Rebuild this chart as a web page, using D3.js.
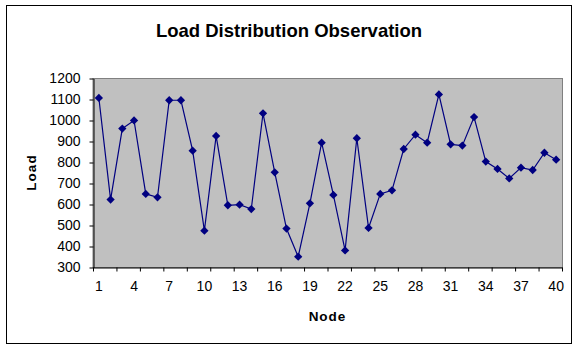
<!DOCTYPE html>
<html>
<head>
<meta charset="utf-8">
<script src="https://cdn.jsdelivr.net/npm/d3@7"></script>
<style>
  body { margin: 0; background: #fff; }
  text { font-family: "Liberation Sans", Arial, sans-serif; }
</style>
</head>
<body>
<div id="chart"></div>
<script>
var nodes = d3.range(1, 41);
var loads = [1105, 621, 959, 998, 648, 632, 1094, 1094, 854, 473,
             924, 594, 597, 576, 1032, 751, 483, 349, 603, 892,
             643, 379, 913, 486, 648, 665, 862, 930, 892, 1122,
             884, 878, 1014, 802, 767, 722, 773, 762, 844, 811];
var yTicks = [300, 400, 500, 600, 700, 800, 900, 1000, 1100, 1200];
var xLabels = [1, 4, 7, 10, 13, 16, 19, 22, 25, 28, 31, 34, 37, 40];

var canvasWidth = 581, canvasHeight = 351;
var plot = {left: 93, top: 78, right: 562, bottom: 267};

var svg = d3.select("#chart").append("svg")
    .attr("width", canvasWidth)
    .attr("height", canvasHeight);

// chart area border
svg.append("rect")
    .attr("x", 6.5).attr("y", 5.5)
    .attr("width", 565).attr("height", 338)
    .attr("fill", "#fff")
    .attr("stroke", "#000");

svg.append("text")
    .attr("x", 289).attr("y", 37)
    .attr("text-anchor", "middle")
    .attr("font-size", "18.5px")
    .attr("font-weight", "bold")
    .text("Load Distribution Observation");

var xScale = d3.scaleBand().domain(nodes).range([plot.left, plot.right]);
var xEdge = d3.scaleLinear().domain([0.5, 40.5]).range([plot.left, plot.right]);
var yScale = d3.scaleLinear().domain([300, 1200]).range([plot.bottom, plot.top]);

// plot area
svg.append("rect")
    .attr("x", plot.left).attr("y", plot.top + 0.5)
    .attr("width", plot.right - plot.left + 0.5).attr("height", plot.bottom - plot.top)
    .attr("fill", "#c0c0c0")
    .attr("stroke", "#808080");

// y axis
var yAxis = svg.append("g")
    .attr("transform", "translate(" + (plot.left + 0.5) + ",0.5)")
    .call(d3.axisLeft(yScale).tickValues(yTicks).tickFormat(d3.format("d"))
        .tickSize(4).tickPadding(9).tickSizeOuter(0));
yAxis.selectAll("text").attr("font-size", "14px").attr("fill", "#000")
    .style("font-family", "'Liberation Sans', Arial, sans-serif");
yAxis.selectAll("line, path").attr("stroke", "#000");

// x axis: tick marks every 2 categories, labels every 3
var edges = d3.range(0.5, 41, 2);
var xAxis = svg.append("g")
    .attr("transform", "translate(0," + (plot.bottom + 0.5) + ")")
    .call(d3.axisBottom(xEdge).tickValues(edges).tickSize(4).tickFormat("").tickSizeOuter(0));
xAxis.selectAll("line, path").attr("stroke", "#000");

var xLab = svg.append("g")
    .attr("transform", "translate(0," + (plot.bottom + 0.5) + ")")
    .call(d3.axisBottom(xScale).tickValues(xLabels).tickSize(0).tickPadding(14));
xLab.select(".domain").remove();
xLab.selectAll("text").attr("font-size", "14px").attr("fill", "#000")
    .style("font-family", "'Liberation Sans', Arial, sans-serif");

// axis titles
svg.append("text")
    .attr("transform", "translate(36," + ((plot.top + plot.bottom) / 2) + ") rotate(-90)")
    .attr("text-anchor", "middle")
    .attr("font-size", "13.5px")
    .attr("font-weight", "bold")
    .attr("letter-spacing", "1px")
    .text("Load");

svg.append("text")
    .attr("x", (plot.left + plot.right) / 2).attr("y", 321)
    .attr("text-anchor", "middle")
    .attr("font-size", "13.5px")
    .attr("font-weight", "bold")
    .attr("letter-spacing", "1px")
    .text("Node");

var cx = function(d, i) { return xScale(nodes[i]) + xScale.bandwidth() / 2; };

var line = d3.line()
    .x(function(d, i) { return cx(d, i); })
    .y(function(d) { return yScale(d); });

svg.append("path")
    .datum(loads)
    .attr("fill", "none")
    .attr("stroke", "#000080")
    .attr("stroke-width", 1.2)
    .attr("d", line);

svg.selectAll(".marker")
    .data(loads)
    .enter().append("path")
    .attr("class", "marker")
    .attr("transform", function(d, i) { return "translate(" + cx(d, i) + "," + yScale(d) + ")"; })
    .attr("d", d3.symbol().type(d3.symbolDiamond2).size(44))
    .attr("fill", "#000080");
</script>
</body>
</html>
